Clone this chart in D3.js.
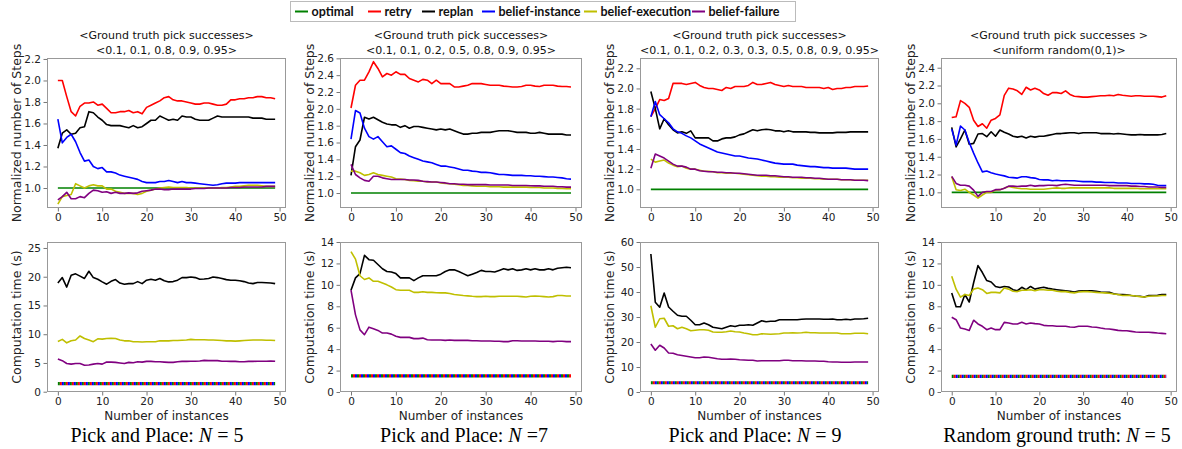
<!DOCTYPE html>
<html><head><meta charset="utf-8">
<script src="https://cdn.jsdelivr.net/npm/d3@7"></script>
<style>
html,body{margin:0;padding:0;background:#fff;}
svg{display:block;}
</style></head><body>
<svg id="chart" width="1182" height="449"></svg>
<script>
// ---------- data ----------
const instances = d3.range(50);
const seriesNames = ["optimal","retry","replan","belief-instance","belief-execution","belief-failure"];
const seriesColors = ["#008000","#ff0000","#000000","#0000ff","#bfbf00","#800080"];

const panelTitles = [
  ["<Ground truth pick successes>","<0.1, 0.1, 0.8, 0.9, 0.95>"],
  ["<Ground truth pick successes>","<0.1, 0.1, 0.2, 0.5, 0.8, 0.9, 0.95>"],
  ["<Ground truth pick successes>","<0.1, 0.1, 0.2, 0.3, 0.3, 0.5, 0.8, 0.9, 0.95>"],
  ["<Ground truth pick successes >","<uniform random(0,1)>"]
];
const captionPrefix = ["Pick and Place: ","Pick and Place: ","Pick and Place: ","Random ground truth: "];
const captionSuffix = [" = 5"," =7"," = 9"," = 5"];

const stepsTicks = [[1.0,1.2,1.4,1.6,1.8,2.0,2.2],[1.0,1.2,1.4,1.6,1.8,2.0,2.2,2.4,2.6],[1.0,1.2,1.4,1.6,1.8,2.0,2.2],[1.0,1.2,1.4,1.6,1.8,2.0,2.2,2.4]];
const timeTicks = [[0,5,10,15,20,25],[0,2,4,6,8,10,12,14],[0,10,20,30,40,50,60],[0,2,4,6,8,10,12,14]];
const xTicksTop = [[0,10,20,30,40,50],[0,10,20,30,40,50],[0,10,20,30,40,50],[10,20,30,40,50]];
const xTicksBottom = [0,10,20,30,40,50];

const stepsOptimal = 1.0;

const steps5_retry = [2.00,2.00,1.85,1.71,1.67,1.76,1.79,1.79,1.80,1.77,1.78,1.74,1.70,1.70,1.71,1.71,1.72,1.70,1.71,1.69,1.75,1.77,1.79,1.81,1.84,1.85,1.82,1.81,1.81,1.80,1.79,1.78,1.78,1.79,1.79,1.78,1.77,1.77,1.78,1.82,1.82,1.83,1.83,1.84,1.84,1.85,1.85,1.84,1.84,1.83];
const steps5_replan = [1.37,1.51,1.54,1.50,1.51,1.56,1.57,1.71,1.70,1.66,1.63,1.59,1.58,1.58,1.58,1.57,1.56,1.58,1.56,1.57,1.60,1.63,1.63,1.67,1.65,1.63,1.64,1.63,1.67,1.66,1.66,1.64,1.63,1.63,1.63,1.65,1.67,1.66,1.66,1.66,1.66,1.66,1.66,1.66,1.65,1.65,1.65,1.64,1.64,1.64];
const steps5_instance = [1.64,1.42,1.47,1.50,1.43,1.33,1.25,1.26,1.20,1.18,1.19,1.15,1.15,1.14,1.12,1.11,1.10,1.09,1.08,1.06,1.05,1.05,1.05,1.06,1.06,1.07,1.06,1.05,1.06,1.05,1.05,1.045,1.04,1.035,1.03,1.025,1.03,1.04,1.045,1.045,1.045,1.05,1.05,1.05,1.05,1.05,1.05,1.05,1.05,1.05];
const steps5_execution = [0.85,0.92,0.93,0.94,1.04,1.02,1.00,1.02,1.03,1.02,1.02,0.99,0.99,0.97,0.96,0.95,0.95,0.95,0.94,0.95,0.97,0.98,0.99,1.00,1.005,1.01,1.005,1.005,1.005,1.005,1.0,1.0,1.0,1.0,1.0,1.0,1.0,1.005,1.005,1.01,1.015,1.015,1.02,1.025,1.025,1.025,1.02,1.015,1.015,1.015];
const steps5_failure = [0.89,0.92,0.96,0.90,0.90,0.92,0.91,0.95,0.98,0.975,0.96,0.965,0.95,0.96,0.95,0.95,0.955,0.95,0.955,0.97,0.975,0.98,0.99,0.99,0.985,0.985,0.99,0.99,0.99,0.99,0.99,0.995,0.995,0.995,1.0,1.0,1.0,1.0,1.0,1.005,1.005,1.005,1.01,1.01,1.01,1.01,1.01,1.015,1.015,1.015];

const steps7_retry = [2.01,2.28,2.34,2.34,2.44,2.56,2.48,2.38,2.42,2.40,2.44,2.41,2.41,2.36,2.34,2.32,2.35,2.34,2.30,2.34,2.30,2.30,2.30,2.26,2.26,2.27,2.28,2.30,2.30,2.30,2.29,2.28,2.28,2.28,2.27,2.265,2.26,2.26,2.265,2.28,2.28,2.27,2.265,2.28,2.28,2.28,2.27,2.265,2.265,2.26];
const steps7_replan = [1.21,1.55,1.63,1.90,1.88,1.90,1.87,1.84,1.82,1.81,1.81,1.78,1.80,1.77,1.79,1.79,1.78,1.77,1.76,1.75,1.76,1.75,1.76,1.74,1.72,1.70,1.70,1.71,1.71,1.72,1.72,1.72,1.73,1.74,1.74,1.74,1.73,1.72,1.72,1.72,1.71,1.71,1.72,1.71,1.70,1.70,1.70,1.70,1.69,1.69];
const steps7_instance = [1.64,1.98,1.95,1.77,1.67,1.64,1.67,1.61,1.55,1.56,1.52,1.48,1.47,1.44,1.42,1.40,1.38,1.37,1.36,1.34,1.32,1.32,1.31,1.30,1.285,1.27,1.27,1.26,1.255,1.245,1.245,1.24,1.23,1.22,1.22,1.215,1.21,1.21,1.21,1.205,1.205,1.20,1.20,1.195,1.19,1.19,1.185,1.18,1.17,1.165];
const steps7_execution = [1.26,1.26,1.24,1.21,1.22,1.24,1.22,1.21,1.20,1.19,1.17,1.165,1.16,1.15,1.145,1.14,1.14,1.13,1.13,1.13,1.12,1.115,1.11,1.105,1.10,1.09,1.09,1.085,1.08,1.08,1.08,1.075,1.075,1.075,1.07,1.07,1.07,1.07,1.07,1.07,1.067,1.065,1.065,1.06,1.06,1.06,1.055,1.055,1.05,1.05];
const steps7_failure = [1.34,1.22,1.18,1.15,1.14,1.20,1.20,1.18,1.17,1.16,1.16,1.16,1.16,1.155,1.155,1.15,1.14,1.135,1.13,1.13,1.125,1.12,1.11,1.11,1.105,1.105,1.10,1.10,1.10,1.10,1.10,1.095,1.095,1.095,1.095,1.095,1.09,1.09,1.09,1.09,1.087,1.085,1.085,1.08,1.08,1.08,1.075,1.075,1.07,1.07];

const steps9_retry = [1.72,1.80,1.89,1.88,1.90,2.05,2.05,2.05,2.04,2.05,2.06,2.03,2.01,2.00,2.00,1.99,1.98,2.01,2.00,2.02,2.02,2.02,2.03,2.06,2.04,2.04,2.05,2.06,2.04,2.03,2.02,2.03,2.02,2.02,2.02,2.01,2.01,2.01,2.01,2.00,2.01,1.99,2.00,2.00,2.01,2.01,2.02,2.02,2.02,2.025];
const steps9_replan = [1.97,1.80,1.60,1.70,1.64,1.59,1.56,1.57,1.555,1.58,1.51,1.51,1.51,1.51,1.48,1.48,1.50,1.51,1.51,1.52,1.54,1.55,1.57,1.59,1.58,1.59,1.595,1.59,1.58,1.58,1.57,1.58,1.57,1.57,1.57,1.57,1.565,1.565,1.56,1.56,1.56,1.56,1.565,1.565,1.565,1.57,1.57,1.57,1.57,1.57];
const steps9_instance = [1.72,1.87,1.74,1.70,1.66,1.60,1.57,1.555,1.53,1.51,1.48,1.45,1.43,1.41,1.39,1.37,1.36,1.35,1.34,1.33,1.33,1.32,1.31,1.305,1.30,1.29,1.28,1.27,1.26,1.255,1.25,1.25,1.25,1.24,1.235,1.23,1.225,1.225,1.22,1.215,1.215,1.21,1.21,1.21,1.21,1.205,1.20,1.20,1.20,1.20];
const steps9_execution = [1.30,1.27,1.28,1.29,1.26,1.24,1.225,1.23,1.21,1.20,1.20,1.19,1.18,1.18,1.175,1.165,1.165,1.16,1.16,1.16,1.155,1.15,1.145,1.14,1.135,1.13,1.13,1.125,1.125,1.12,1.12,1.12,1.115,1.115,1.11,1.11,1.11,1.105,1.105,1.10,1.10,1.10,1.10,1.095,1.095,1.095,1.09,1.09,1.09,1.09];
const steps9_failure = [1.21,1.35,1.33,1.31,1.28,1.25,1.23,1.23,1.22,1.20,1.20,1.185,1.18,1.175,1.175,1.17,1.17,1.165,1.165,1.16,1.16,1.155,1.15,1.145,1.14,1.14,1.14,1.135,1.135,1.13,1.125,1.125,1.12,1.12,1.12,1.115,1.115,1.11,1.11,1.105,1.10,1.10,1.10,1.095,1.095,1.095,1.09,1.09,1.09,1.086];

const stepsR_retry = [1.84,1.85,2.03,2.00,1.955,1.81,1.74,1.77,1.72,1.81,1.83,1.87,2.09,2.17,2.16,2.14,2.10,2.18,2.15,2.17,2.15,2.11,2.09,2.12,2.12,2.11,2.14,2.10,2.08,2.075,2.07,2.07,2.075,2.08,2.085,2.085,2.09,2.085,2.10,2.09,2.085,2.08,2.085,2.085,2.08,2.08,2.08,2.075,2.07,2.085];
const stepsR_replan = [1.73,1.51,1.60,1.70,1.54,1.55,1.655,1.66,1.625,1.68,1.63,1.70,1.675,1.655,1.63,1.62,1.63,1.61,1.63,1.62,1.63,1.63,1.64,1.65,1.66,1.66,1.665,1.67,1.67,1.66,1.67,1.67,1.67,1.67,1.66,1.66,1.66,1.655,1.66,1.655,1.65,1.645,1.645,1.65,1.645,1.645,1.645,1.645,1.65,1.66];
const stepsR_instance = [1.71,1.53,1.745,1.70,1.56,1.44,1.33,1.23,1.24,1.22,1.205,1.195,1.185,1.17,1.165,1.16,1.175,1.175,1.165,1.16,1.145,1.14,1.14,1.13,1.135,1.13,1.13,1.13,1.13,1.125,1.12,1.12,1.12,1.115,1.115,1.11,1.11,1.11,1.105,1.105,1.105,1.10,1.10,1.10,1.095,1.095,1.09,1.08,1.075,1.075];
const stepsR_execution = [1.175,1.03,1.02,1.035,1.00,0.97,0.935,0.97,1.00,1.00,1.025,1.03,1.045,1.065,1.055,1.045,1.04,1.04,1.035,1.035,1.035,1.035,1.04,1.045,1.05,1.045,1.045,1.05,1.05,1.05,1.05,1.05,1.05,1.05,1.05,1.05,1.05,1.045,1.045,1.045,1.045,1.045,1.045,1.04,1.04,1.04,1.04,1.04,1.04,1.04];
const stepsR_failure = [1.18,1.10,1.08,1.08,1.07,1.025,0.955,1.0,1.01,1.01,1.03,1.03,1.045,1.07,1.07,1.065,1.07,1.07,1.08,1.07,1.075,1.075,1.08,1.08,1.075,1.085,1.09,1.085,1.08,1.08,1.08,1.08,1.08,1.08,1.08,1.08,1.075,1.075,1.075,1.075,1.075,1.07,1.07,1.065,1.065,1.06,1.06,1.06,1.055,1.055];

// computation time: optimal, retry and belief-instance share one constant value per panel
const timeConstant = [1.4, 1.5, 3.7, 1.45];

const time5_replan = [18.9,19.85,18.2,20.25,20.5,20.1,19.7,20.95,19.85,19.55,19.1,18.7,19.2,19.5,18.9,18.7,18.8,18.8,19.15,18.8,19.4,19.55,19.4,19.7,19.3,19.1,19.15,19.4,19.85,19.85,19.95,19.85,19.55,19.6,19.7,19.95,19.85,19.7,19.5,19.4,19.4,19.3,19.15,18.9,18.8,19.0,19.0,18.95,18.9,18.8];
const time5_execution = [8.75,9.1,8.5,8.85,9.0,9.7,9.25,9.0,8.7,9.2,9.15,9.25,9.3,9.25,9.0,8.85,8.85,8.7,8.7,8.65,8.7,8.7,8.7,8.85,8.85,8.85,8.9,8.9,8.95,9.0,9.1,9.05,9.05,9.05,9.0,9.0,8.95,8.9,8.85,8.85,8.8,8.85,8.9,8.95,9.0,9.0,9.0,8.95,8.95,8.9];
const time5_failure = [5.67,5.4,4.9,4.8,4.9,4.9,4.6,4.65,4.8,4.9,4.8,5.15,5.15,5.1,5.0,4.9,5.1,5.05,5.2,5.15,5.27,5.27,5.2,5.2,5.15,5.1,5.1,5.2,5.27,5.27,5.3,5.3,5.35,5.45,5.4,5.4,5.4,5.3,5.3,5.27,5.27,5.2,5.2,5.27,5.27,5.3,5.3,5.3,5.35,5.3];

const time7_replan = [9.5,10.65,11.05,12.75,12.35,12.3,11.9,11.5,11.25,11.2,11.05,10.65,10.65,10.65,10.4,10.65,10.85,10.85,10.85,10.85,11.0,11.25,11.4,11.4,11.25,11.05,10.85,11.0,11.15,11.35,11.25,11.25,11.2,11.35,11.5,11.4,11.5,11.35,11.4,11.5,11.4,11.5,11.4,11.4,11.5,11.4,11.55,11.6,11.65,11.6];
const time7_execution = [13.1,12.4,10.85,10.5,10.65,10.33,10.33,10.17,10.0,9.8,9.55,9.5,9.5,9.5,9.3,9.3,9.35,9.3,9.3,9.27,9.25,9.25,9.2,9.1,9.05,9.0,8.97,8.93,8.9,8.9,8.93,8.9,8.9,8.93,8.93,8.93,8.93,8.93,8.9,8.87,8.93,8.96,8.93,8.9,8.87,8.9,9.0,9.0,8.96,8.96];
const time7_failure = [9.5,7.2,5.8,5.35,6.05,5.9,5.75,5.5,5.5,5.4,5.2,5.1,5.1,5.1,4.98,4.98,5.03,4.88,4.85,4.85,4.85,4.82,4.85,4.82,4.82,4.82,4.82,4.79,4.79,4.76,4.76,4.76,4.73,4.73,4.7,4.7,4.79,4.79,4.76,4.76,4.76,4.76,4.73,4.73,4.73,4.7,4.73,4.73,4.7,4.7];

const time9_replan = [55.2,35.9,33.9,39.6,34.0,32.3,30.7,30.3,30.3,28.7,26.9,26.9,27.6,26.9,25.9,25.6,25.3,25.9,26.5,26.2,26.7,26.7,26.9,26.7,27.6,28.5,28.1,28.3,28.3,28.9,28.9,28.9,28.9,28.9,29.1,29.2,29.2,29.2,29.2,29.1,29.1,29.2,28.9,28.9,29.1,28.9,29.2,29.2,29.3,29.5];
const time9_execution = [34.5,25.9,29.3,29.5,26.3,26.5,25.3,25.9,25.3,24.5,24.7,24.9,24.9,24.7,24.0,23.9,23.9,24.1,24.4,24.1,24.0,23.6,23.3,22.9,22.9,23.3,23.2,23.1,23.2,23.3,23.6,23.6,23.7,23.6,23.7,23.9,23.7,23.7,23.6,23.6,23.6,23.6,23.6,23.3,23.3,23.3,23.5,23.5,23.5,23.3];
const time9_failure = [19.2,16.7,18.7,17.6,15.6,15.5,14.9,14.6,14.3,14.0,13.7,13.7,14.0,13.9,13.6,13.3,13.1,13.1,13.2,13.1,12.9,12.8,12.7,12.7,12.4,12.5,12.5,12.5,12.5,12.5,12.7,12.7,12.5,12.5,12.5,12.4,12.4,12.4,12.3,12.3,12.1,12.0,12.0,11.9,11.9,11.9,12.0,12.0,12.0,12.0];

const timeR_replan = [9.25,7.95,7.95,9.1,8.4,10.2,11.8,11.15,10.4,10.27,9.85,9.75,9.85,9.8,9.55,9.45,9.77,9.55,9.85,9.6,9.7,9.77,9.67,9.6,9.55,9.5,9.45,9.4,9.33,9.42,9.45,9.45,9.45,9.4,9.33,9.3,9.3,9.17,9.1,9.1,9.07,9.0,8.96,8.93,8.87,9.0,9.0,9.03,9.1,9.1];
const timeR_execution = [10.8,9.6,8.85,9.1,9.0,9.6,9.7,9.55,9.2,9.3,9.3,9.25,9.7,9.6,9.4,9.37,9.5,9.5,9.55,9.45,9.55,9.55,9.5,9.5,9.4,9.37,9.37,9.3,9.25,9.33,9.37,9.37,9.33,9.3,9.27,9.25,9.22,9.15,9.1,9.0,9.03,9.0,8.96,8.9,8.87,8.93,8.96,8.96,9.0,9.0];
const timeR_failure = [6.97,6.75,5.97,5.88,5.75,6.7,6.35,6.13,5.82,5.97,5.82,5.82,6.5,6.44,6.35,6.35,6.5,6.35,6.44,6.38,6.35,6.22,6.19,6.19,6.13,6.13,6.13,6.07,6.04,6.13,6.13,6.13,6.07,6.04,5.97,5.91,5.88,5.82,5.75,5.72,5.72,5.66,5.6,5.57,5.57,5.57,5.54,5.5,5.47,5.44];

// ---------- layout ----------
const stepsSeries = [
  [steps5_retry, steps5_replan, steps5_instance, steps5_execution, steps5_failure],
  [steps7_retry, steps7_replan, steps7_instance, steps7_execution, steps7_failure],
  [steps9_retry, steps9_replan, steps9_instance, steps9_execution, steps9_failure],
  [stepsR_retry, stepsR_replan, stepsR_instance, stepsR_execution, stepsR_failure]
];
const timeSeries = [
  [time5_replan, time5_execution, time5_failure],
  [time7_replan, time7_execution, time7_failure],
  [time9_replan, time9_execution, time9_failure],
  [timeR_replan, timeR_execution, timeR_failure]
];

const cols = [
  {left:47, right:286, cap:157},
  {left:340, right:582, cap:464},
  {left:640, right:879, cap:755},
  {left:941, right:1177, cap:1057}
];
const topRow = {top:58, bottom:208};
const botRow = {top:242, bottom:392};
const stepsDomains = [[0.814,2.209],[0.822,2.604],[0.815,2.302],[0.824,2.509]];
const timeDomains = [[-0.05,26.04],[0,14],[0,60],[0,14]];

const tickFont = "'DejaVu Sans', sans-serif";
const svg = d3.select("#chart");

function drawAxes(g, x, y, row, col, xt, yt, yfmt) {
  const ax = g.append("g").attr("transform", `translate(0,${row.bottom})`)
    .call(d3.axisBottom(x).tickValues(xt).tickSize(3.5).tickPadding(2).tickFormat(d3.format("d")));
  const ay = g.append("g").attr("transform", `translate(${col.left},0)`)
    .call(d3.axisLeft(y).tickValues(yt).tickSize(3.5).tickPadding(2.5).tickFormat(yfmt));
  [ax, ay].forEach(a => {
    a.select(".domain").remove();
    a.selectAll(".tick line").attr("stroke", "#777");
    a.selectAll(".tick text").attr("fill", "#222").style("font-family", tickFont).style("font-size", "10.5px");
  });
}

function frame(g, row, col) {
  g.append("rect").attr("x", col.left + 0.5).attr("y", row.top + 0.5)
    .attr("width", col.right - col.left - 1).attr("height", row.bottom - row.top - 1)
    .attr("fill", "none").attr("stroke", "#999").attr("stroke-width", 1);
}

function ylabel(g, text, row, col) {
  g.append("text")
    .attr("transform", `translate(${col.left - 30},${(row.top + row.bottom) / 2}) rotate(-90)`)
    .attr("text-anchor", "middle").attr("dy", "0.35em")
    .style("font-family", tickFont).style("font-size", "12.5px").attr("fill", "#222")
    .text(text);
}

cols.forEach((col, i) => {
  const g = svg.append("g");
  const x = d3.scaleLinear().domain([-2.45, 51.45]).range([col.left, col.right]);

  // ---- top: normalized steps ----
  const yS = d3.scaleLinear().domain(stepsDomains[i]).range([topRow.bottom, topRow.top]);
  const lineS = d3.line().x((d, k) => x(instances[k])).y(d => yS(d));
  drawAxes(g, x, yS, topRow, col, xTicksTop[i], stepsTicks[i], d3.format(".1f"));
  const optimalSeries = instances.map(() => stepsOptimal);
  const allS = [optimalSeries].concat(stepsSeries[i]);
  allS.forEach((arr, s) => {
    g.append("path").attr("d", lineS(arr)).attr("fill", "none")
      .attr("stroke", seriesColors[s]).attr("stroke-width", 1.6)
      .attr("stroke-linejoin", "round");
  });
  frame(g, topRow, col);
  ylabel(g, "Normalized number of Steps", topRow, col);
  const cx = (col.left + col.right) / 2;
  panelTitles[i].forEach((t, k) => {
    g.append("text").attr("x", cx).attr("y", 39 + k * 15).attr("text-anchor", "middle")
      .style("font-family", tickFont).style("font-size", "11px").attr("fill", "#111").text(t);
  });

  // ---- bottom: computation time ----
  const yT = d3.scaleLinear().domain(timeDomains[i]).range([botRow.bottom, botRow.top]);
  const lineT = d3.line().x((d, k) => x(instances[k])).y(d => yT(d));
  drawAxes(g, x, yT, botRow, col, xTicksBottom, timeTicks[i], d3.format("d"));
  const constSeries = instances.map(() => timeConstant[i]);
  // optimal (green), retry (red), belief-instance (blue) overlap as a dotted multi-colour band
  [[0, 0], [1, -2], [3, -4]].forEach(([s, off]) => {
    g.append("path").attr("d", lineT(constSeries)).attr("fill", "none")
      .attr("stroke", seriesColors[s]).attr("stroke-width", 3.2)
      .attr("stroke-dasharray", "2,4").attr("stroke-dashoffset", off);
  });
  timeSeries[i].forEach((arr, k) => {
    g.append("path").attr("d", lineT(arr)).attr("fill", "none")
      .attr("stroke", seriesColors[k + 2 + (k > 0 ? 1 : 0)]).attr("stroke-width", 1.6)
      .attr("stroke-linejoin", "round");
  });
  frame(g, botRow, col);
  ylabel(g, "Computation time (s)", botRow, col);
  g.append("text").attr("x", cx).attr("y", 420).attr("text-anchor", "middle")
    .style("font-family", tickFont).style("font-size", "12px").attr("fill", "#222")
    .text("Number of instances");

  // caption
  const cap = g.append("text").attr("x", col.cap).attr("y", 442).attr("text-anchor", "middle")
    .style("font-family", "'Liberation Serif', 'Times New Roman', serif").style("font-size", "20px").attr("fill", "#000");
  cap.append("tspan").text(captionPrefix[i]);
  cap.append("tspan").style("font-style", "italic").text("N");
  cap.append("tspan").text(captionSuffix[i]);
});

// ---------- legend ----------
const legendX = [295, 368, 422, 482, 584, 692];
const lg = svg.append("g");
lg.append("rect").attr("x", 290.5).attr("y", 1.5).attr("width", 505).attr("height", 20)
  .attr("fill", "#fff").attr("stroke", "#bbb");
seriesNames.forEach((name, s) => {
  lg.append("line").attr("x1", legendX[s]).attr("x2", legendX[s] + 13).attr("y1", 11.5).attr("y2", 11.5)
    .attr("stroke", seriesColors[s]).attr("stroke-width", 2);
  lg.append("text").attr("x", legendX[s] + 16.5).attr("y", 16)
    .style("font-family", "Lato, 'Liberation Sans', sans-serif").style("font-weight", "bold").style("font-size", "12.5px")
    .attr("fill", "#111").text(name);
});
</script>
</body></html>
